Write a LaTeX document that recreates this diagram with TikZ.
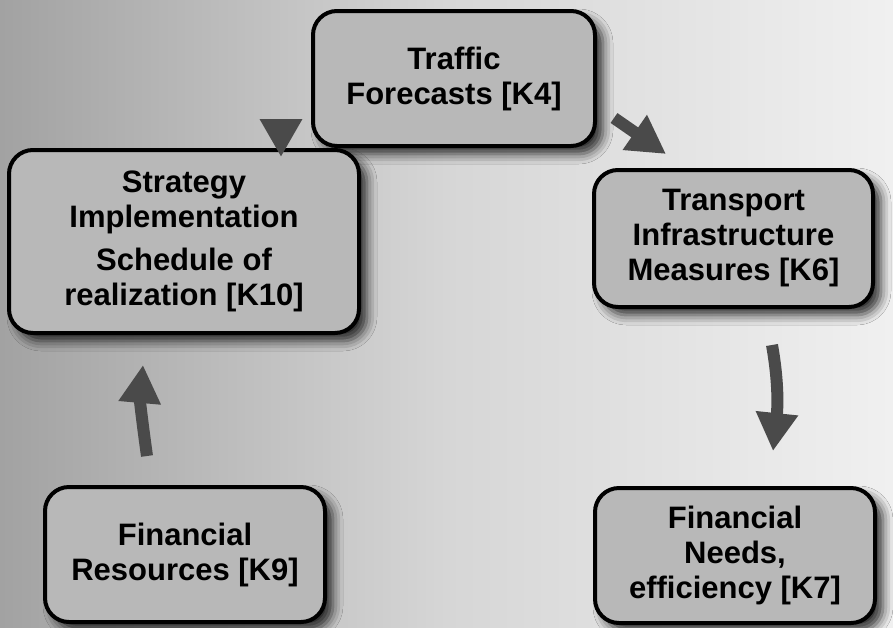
\documentclass[tikz,border=0pt]{standalone}
\usepackage{fontspec}
\setmainfont{Liberation Sans}
\usetikzlibrary{arrows.meta,shadows.blur,calc}
\definecolor{boxfill}{HTML}{B8B8B8}
\definecolor{arrowgray}{HTML}{4A4A4A}
\definecolor{bgleft}{HTML}{A2A2A2}
\definecolor{bgmid}{HTML}{D6D6D6}
\definecolor{bgright}{HTML}{F0F0F0}
\pgfdeclarehorizontalshading{bgshade}{100bp}{color(0bp)=(bgleft); color(25bp)=(bgleft); color(50bp)=(bgmid); color(75bp)=(bgright); color(100bp)=(bgright)}
\begin{document}
\begin{tikzpicture}[x=1pt,y=1pt]\tikzstyle{box}=[draw, line width=4pt, rounded corners=24pt, fill=boxfill, align=center, inner sep=0pt, minimum width=280pt, minimum height=135pt, font=\fontsize{31}{35}\selectfont\bfseries, blur shadow={shadow xshift=8pt, shadow yshift=-8pt, shadow blur radius=10pt, shadow opacity=80}]
\tikzstyle{flow}=[arrowgray, line width=12pt, -{Triangle[length=38pt,width=40pt]}]
% background
  \shade[shading=bgshade] (0,0) rectangle (893,-627);
  \useasboundingbox (0,0) rectangle (893,-627);
% traffic_forecasts
  \node[box, minimum width=282pt] (traffic) at (454,-78.5)%
{%
  Traffic \\
  Forecasts [K4]
};
% strategy_implementation
  \node[box, minimum width=350pt, minimum height=183pt] (strategy) at (184,-241.5)%
{%
  Strategy \\
  Implementation \\[8pt]
  Schedule of \\
  realization [K10]
};
% transport_measures
  \node[box, minimum width=279pt, minimum height=137pt] (transport) at (733.5,-238.5)%
{%
  Transport \\
  Infrastructure \\
  Measures [K6]
};
% financial_needs
  \node[box] (needs) at (735,-555.5)%
{%
  Financial \\
  Needs, \\
  efficiency [K7]
};
% financial_resources
  \node[box] (resources) at (185,-554.5)%
{%
  Financial \\
  Resources [K9]
};
% arrows
  \draw[flow] ($(strategy.north)+(97,29)$) -- ($(strategy.north)+(97,-9)$);
  \draw[flow] ($(traffic.east)+(17,-39.5)$) -- ($(transport.north)+(-67.5,14)$);
  \draw[flow] ($(transport.south)+(38.5,-36)$) to[out=-80,in=84] ($(needs.north)+(38,35)$);
  \draw[flow] ($(resources.north)+(-38,29)$) to[out=98,in=-95] ($(strategy.south)+(-41,-30)$);
\end{tikzpicture}
\end{document}
